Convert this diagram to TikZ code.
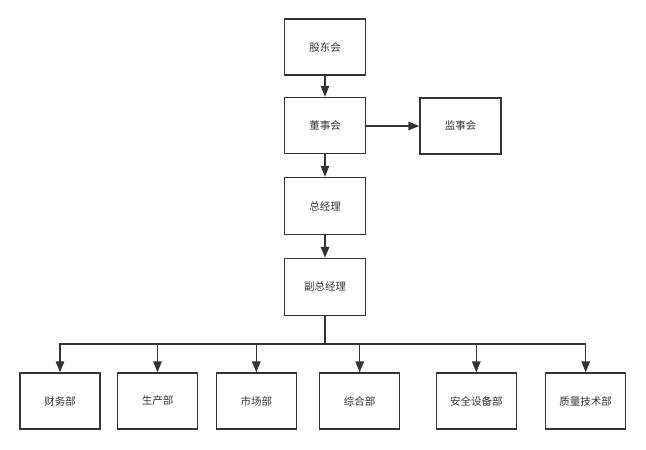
\documentclass[tikz,border=0pt]{standalone}
\usepackage{fontspec}
\newfontfamily\cjk{Noto Sans CJK SC}
\usetikzlibrary{arrows.meta}
\definecolor{ink}{HTML}{333333}
\begin{document}
\begin{tikzpicture}[x=1pt,y=-1pt,
  box/.style={draw=ink,line width=1.4pt,fill=white,minimum width=81pt,minimum height=56pt,inner sep=0pt,font=\cjk\fontsize{10.5}{12}\selectfont,text=ink},
  conn/.style={draw=ink,line width=1.4pt,-{Triangle[length=11pt,width=8.5pt]}}]
\useasboundingbox[fill=white] (0,0) rectangle (646,450);
\node[box] (gd) at (325,47) {股东会};
\node[box] (dsh) at (325,125.5) {董事会};
\node[box] (jsh) at (460.5,126) {监事会};
\node[box,minimum height=57pt] (zjl) at (325,206) {总经理};
\node[box,minimum height=57pt] (fzjl) at (325,287) {副总经理};
\node[box,minimum width=80pt] (cw) at (60,401) {财务部};
\node[box,minimum width=80pt] (sc) at (157.5,401) {生产部};
\node[box,minimum width=80pt] (sch) at (256.3,401) {市场部};
\node[box,minimum width=80pt] (zh) at (359.7,401) {综合部};
\node[box,minimum width=80pt] (aq) at (476.3,401) {安全设备部};
\node[box,minimum width=80pt] (zl) at (585.7,401) {质量技术部};
\coordinate (bus) at (325,344);
\draw[conn] (gd) -- (dsh);
\draw[conn] (dsh.east |- jsh.west) -- (jsh.west);
\draw[conn] (dsh) -- (zjl);
\draw[conn] (zjl) -- (fzjl);
\draw[draw=ink,line width=1.4pt] (fzjl) -- (bus);
\foreach \n in {cw,sc,sch,zh,aq,zl}{
  \draw[conn] (bus) -| (\n);
}
\end{tikzpicture}
\end{document}
